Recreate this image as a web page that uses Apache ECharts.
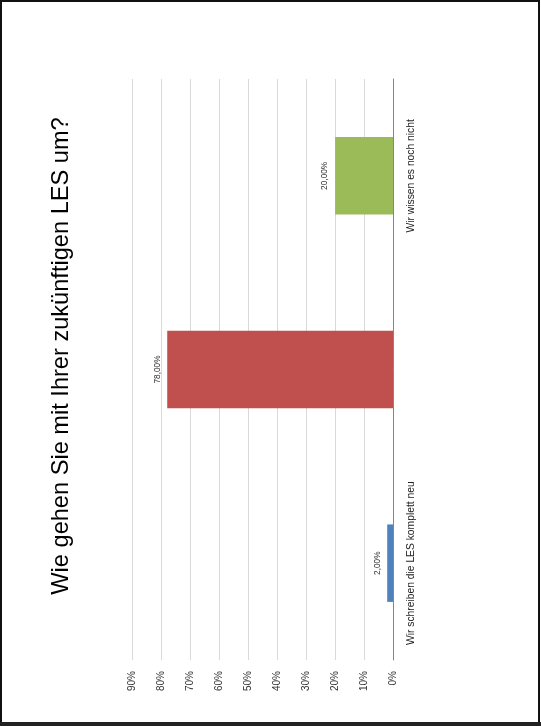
<!DOCTYPE html>
<html>
<head>
<meta charset="utf-8">
<script src="https://cdn.jsdelivr.net/npm/echarts@6/dist/echarts.min.js"></script>
<style>
html,body{margin:0;padding:0;background:#fff;}
#c{width:541px;height:726px;}
</style>
</head>
<body>
<div id="c"></div>
<script>
const title = 'Wie gehen Sie mit Ihrer zukünftigen LES um?';
const categories = ['Wir schreiben die LES komplett neu', 'Wir überarbeiten die bestehende LES', 'Wir wissen es noch nicht'];
const values = [2, 78, 20];
const barColors = ['#4f81bd', '#c0504d', '#9bbb59'];
const axisMin = 0, axisMax = 90, axisStep = 10;

const chart = echarts.init(document.getElementById('c'), null, {renderer: 'canvas'});
const FONT = 'Liberation Sans';
chart.setOption({
  animation: false,
  backgroundColor: '#fff',
  grid: {left: 132.5, right: 148, top: 79, bottom: 66, containLabel: false},
  xAxis: {
    type: 'value', inverse: true, min: axisMin, max: axisMax, interval: axisStep,
    axisLine: {show: false}, axisTick: {show: false},
    splitLine: {lineStyle: {color: '#d9d9d9', width: 1}},
    axisLabel: {rotate: 90, formatter: '{value}%', color: '#333', fontFamily: FONT, fontSize: 10, margin: 11}
  },
  yAxis: {
    type: 'category', position: 'right', data: categories,
    axisLine: {lineStyle: {color: '#868686', width: 1}},
    axisTick: {show: false},
    axisLabel: {rotate: 90, color: '#222', fontFamily: FONT, fontSize: 10.3, margin: 13}
  },
  series: [{
    type: 'bar', barWidth: '40%',
    data: values.map((v, i) => ({value: v, itemStyle: {color: barColors[i]}})),
    label: {
      show: true, position: 'left', distance: 6, rotate: 90,
      align: 'center', verticalAlign: 'bottom',
      formatter: p => p.value.toFixed(2).replace('.', ',') + '%',
      fontFamily: FONT, fontSize: 8.3, color: '#333'
    }
  }],
  graphic: [
    {type: 'text', x: 61, y: 356, rotation: Math.PI / 2,
     style: {text: title, font: '23.6px "Liberation Sans"', fill: '#000', textAlign: 'center', textVerticalAlign: 'middle'}},
    {type: 'rect', shape: {x: 1, y: 1, width: 538, height: 722}, style: {fill: 'none', stroke: '#111', lineWidth: 2}},
    {type: 'rect', shape: {x: 0, y: 722, width: 541, height: 4}, style: {fill: '#222'}}
  ]
});
</script>
</body>
</html>
